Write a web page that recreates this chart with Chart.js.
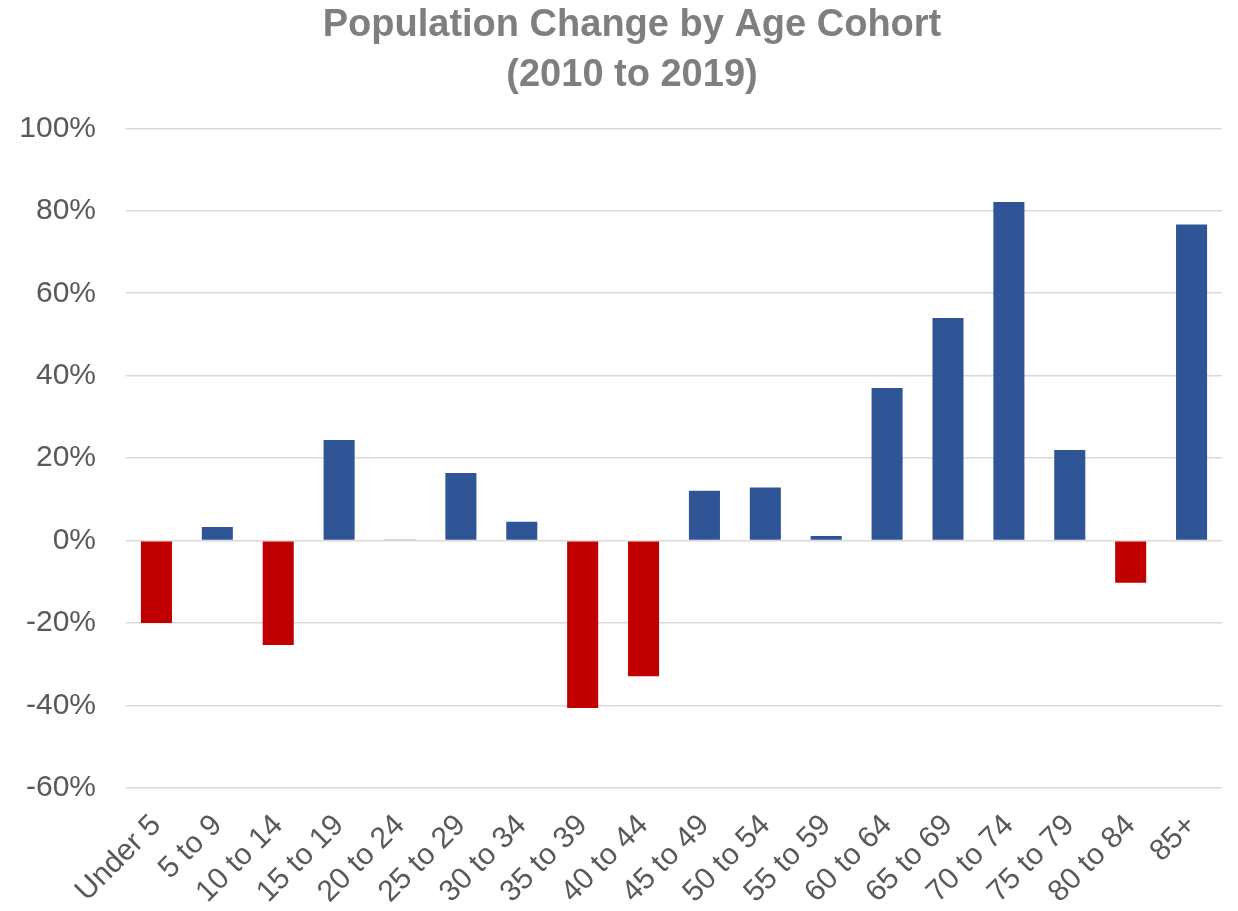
<!DOCTYPE html>
<html>
<head>
<meta charset="utf-8">
<script src="https://cdn.jsdelivr.net/npm/chart.js@4/dist/chart.umd.min.js"></script>
<style>
  html, body { margin: 0; padding: 0; background: #fff; }
  #wrap { width: 1238px; height: 911px; }
</style>
</head>
<body>
<div id="wrap"><canvas id="cohortChart"></canvas></div>
<script>
const cohorts = ["Under 5", "5 to 9", "10 to 14", "15 to 19", "20 to 24", "25 to 29",
    "30 to 34", "35 to 39", "40 to 44", "45 to 49", "50 to 54", "55 to 59",
    "60 to 64", "65 to 69", "70 to 74", "75 to 79", "80 to 84", "85+"];
// percent change 2010-2019
const changePct = [-20.0, 3.3, -25.3, 24.4, 0.3, 16.4, 4.6, -40.6, -32.9,
    12.1, 12.9, 1.1, 37.0, 54.0, 82.1, 22.0, -10.2, 76.7];
const yMin = -60, yMax = 100, yStep = 20;
const titleLines = ["Population Change by Age Cohort", "(2010 to 2019)"];

const BLUE = "#2F5597";
const RED = "#C00000";
const GRID = "#d9d9d9";
const TICK = "#595959";
const FONT = "'Liberation Sans', Arial, Helvetica, sans-serif";

function barColor(ctx) {
    const v = ctx.raw;
    return v < 0 ? RED : BLUE;
}

// nudge the title a bit to the right, like the original
const titleShift = {
    id: 'titleShift',
    afterLayout(chart) {
        if (chart.titleBlock) chart.titleBlock.left += 42;
    }
};

function initChart() {
    const ctx = document.getElementById('cohortChart').getContext('2d');
    new Chart(ctx, {
        type: 'bar',
        data: {
            labels: cohorts,
            datasets: [{
                label: 'Population change',
                data: changePct,
                backgroundColor: barColor,
                borderWidth: 0,
                categoryPercentage: 1.0,
                barPercentage: 0.51
            }]
        },
        plugins: [titleShift],
        options: {
            responsive: true,
            maintainAspectRatio: false,
            animation: false,
            layout: { padding: { left: 0, right: 16, top: 0, bottom: 0 } },
            plugins: {
                legend: { display: false },
                tooltip: { enabled: false },
                title: {
                    display: true,
                    text: titleLines,
                    color: '#7f7f7f',
                    font: { family: FONT, size: 38, weight: 'bold', lineHeight: 1.32 },
                    padding: { top: 0, bottom: 28 }
                }
            },
            scales: {
                x: {
                    grid: { display: false, drawTicks: false },
                    border: { display: false },
                    afterFit: scale => { scale.height = 123; },
                    ticks: {
                        color: TICK,
                        font: { family: FONT, size: 30 },
                        maxRotation: 45,
                        minRotation: 45,
                        autoSkip: false,
                        padding: 20
                    }
                },
                y: {
                    min: yMin,
                    max: yMax,
                    grid: { color: GRID, lineWidth: 1.6, drawTicks: false },
                    border: { display: false },
                    afterFit: scale => { scale.width = 126; },
                    ticks: {
                        stepSize: yStep,
                        color: TICK,
                        padding: 30,
                        font: { family: FONT, size: 30 },
                        callback: v => v + '%'
                    }
                }
            }
        }
    });
}

window.onload = () => {
    initChart();
};
</script>
</body>
</html>
